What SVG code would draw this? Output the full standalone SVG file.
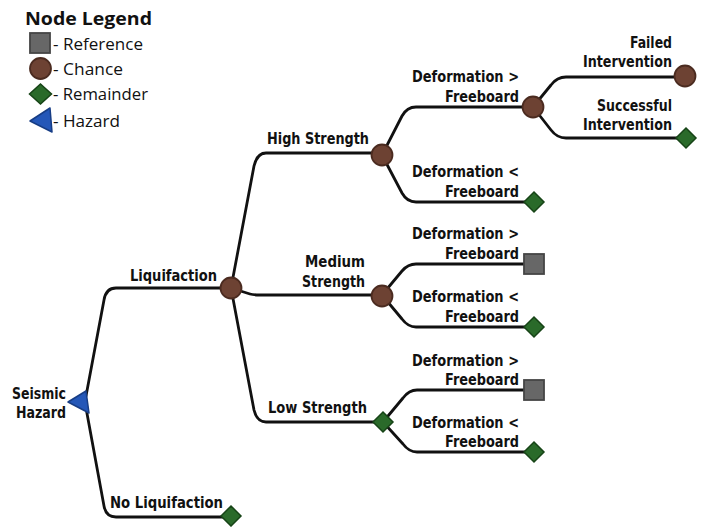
<svg xmlns="http://www.w3.org/2000/svg" width="705" height="527" viewBox="0 0 705 527">
<style>
.link{fill:none;stroke:#111;stroke-width:2.8;stroke-linejoin:round;stroke-linecap:round}
.chance{fill:#6d4233;stroke:#4b2b20;stroke-width:1.8}
.rem{fill:#2a6a2a;stroke:#174417;stroke-width:1.5}
.ref{fill:#676767;stroke:#454545;stroke-width:1.8}
.haz{fill:#2457b8;stroke:#173d85;stroke-width:1.5;stroke-linejoin:round}
.lbl{font-family:"Liberation Sans Narrow","DejaVu Sans Condensed","Open Sans",sans-serif;font-weight:bold;font-size:16px;fill:#111;text-anchor:end}
.leg{font-family:"Open Sans","Noto Sans",sans-serif;font-size:15.5px;fill:#111}
.legt{font-family:"Open Sans","Noto Sans",sans-serif;font-weight:bold;font-size:18px;fill:#111}
</style>
<rect width="705" height="527" fill="#fff"/>

<g id="legend">
  <text class="legt" x="25" y="25" textLength="127" lengthAdjust="spacingAndGlyphs">Node Legend</text>
  <rect class="ref" x="30" y="33" width="20" height="20"/>
  <text class="leg" x="53" y="50" textLength="90" lengthAdjust="spacingAndGlyphs">- Reference</text>
  <circle class="chance" cx="40.5" cy="68.5" r="10.5"/>
  <text class="leg" x="53" y="75" textLength="70" lengthAdjust="spacingAndGlyphs">- Chance</text>
  <polygon class="rem" points="40.5,84 51.5,94 40.5,104 29.5,94"/>
  <text class="leg" x="53" y="100" textLength="95" lengthAdjust="spacingAndGlyphs">- Remainder</text>
  <polygon class="haz" points="30,121 50,108 52,132"/>
  <text class="leg" x="53" y="127" textLength="67" lengthAdjust="spacingAndGlyphs">- Hazard</text>
</g>

<g id="connectors">
  <path class="link" d="M86,396 L104,300 Q106,288 116,288 H231"/>
  <path class="link" d="M86,408 L104,506 Q106,517 116,517 H231"/>
  <path class="link" d="M231,288 L254,166 Q257,153 266,153 H382"/>
  <path class="link" d="M231,288 L250,294 Q253,295 260,295 H382"/>
  <path class="link" d="M231,288 L254,410 Q257,422 266,422 H383"/>
  <path class="link" d="M382,155 L402,116 Q407,107 416,107 H533"/>
  <path class="link" d="M382,155 L402,193 Q407,202 416,202 H534"/>
  <path class="link" d="M382,295 L402,271 Q408,264 416,264 H534"/>
  <path class="link" d="M382,295 L402,319 Q408,327 416,327 H534"/>
  <path class="link" d="M383,422 L403,398 Q409,390 417,390 H534"/>
  <path class="link" d="M383,422 L403,444 Q409,452 417,452 H534"/>
  <path class="link" d="M533,107 L551,85 Q557,77 566,77 H685"/>
  <path class="link" d="M533,107 L551,130 Q557,138 566,138 H686"/>
</g>

<g id="seismic-hazard">
  <polygon class="haz" points="68,402 86,391 89,413"/>
  <text class="lbl" x="66" y="399" textLength="54" lengthAdjust="spacingAndGlyphs">Seismic</text>
  <text class="lbl" x="66" y="418" textLength="50" lengthAdjust="spacingAndGlyphs">Hazard</text>
</g>

<g id="liquifaction">
  <circle class="chance" cx="231" cy="288" r="10.5"/>
  <text class="lbl" x="217" y="281" textLength="87" lengthAdjust="spacingAndGlyphs">Liquifaction</text>
</g>

<g id="no-liquifaction">
  <polygon class="rem" points="231,506 241,516 231,526 221,516"/>
  <text class="lbl" x="223" y="508" textLength="113" lengthAdjust="spacingAndGlyphs">No Liquifaction</text>
</g>

<g id="high-strength">
  <circle class="chance" cx="382" cy="155" r="10.5"/>
  <text class="lbl" x="369" y="144" textLength="102" lengthAdjust="spacingAndGlyphs">High Strength</text>
</g>

<g id="medium-strength">
  <circle class="chance" cx="382" cy="296" r="10.5"/>
  <text class="lbl" x="365" y="267" textLength="60" lengthAdjust="spacingAndGlyphs">Medium</text>
  <text class="lbl" x="365" y="287" textLength="63" lengthAdjust="spacingAndGlyphs">Strength</text>
</g>

<g id="low-strength">
  <polygon class="rem" points="383,412 393,422 383,432 373,422"/>
  <text class="lbl" x="367" y="413" textLength="99" lengthAdjust="spacingAndGlyphs">Low Strength</text>
</g>

<g id="high-def-gt">
  <circle class="chance" cx="533" cy="107" r="10.5"/>
  <text class="lbl" x="519" y="82" textLength="107" lengthAdjust="spacingAndGlyphs">Deformation &gt;</text>
  <text class="lbl" x="519" y="102" textLength="74" lengthAdjust="spacingAndGlyphs">Freeboard</text>
</g>

<g id="high-def-lt">
  <polygon class="rem" points="534,192 544,202 534,212 524,202"/>
  <text class="lbl" x="519" y="177" textLength="107" lengthAdjust="spacingAndGlyphs">Deformation &lt;</text>
  <text class="lbl" x="519" y="197" textLength="74" lengthAdjust="spacingAndGlyphs">Freeboard</text>
</g>

<g id="failed-intervention">
  <circle class="chance" cx="685" cy="76" r="10.5"/>
  <text class="lbl" x="672" y="48" textLength="42" lengthAdjust="spacingAndGlyphs">Failed</text>
  <text class="lbl" x="672" y="67" textLength="89" lengthAdjust="spacingAndGlyphs">Intervention</text>
</g>

<g id="successful-intervention">
  <polygon class="rem" points="686,128 696,138 686,148 676,138"/>
  <text class="lbl" x="672" y="111" textLength="75" lengthAdjust="spacingAndGlyphs">Successful</text>
  <text class="lbl" x="672" y="130" textLength="89" lengthAdjust="spacingAndGlyphs">Intervention</text>
</g>

<g id="medium-def-gt">
  <rect class="ref" x="524" y="254" width="20" height="20"/>
  <text class="lbl" x="519" y="239" textLength="107" lengthAdjust="spacingAndGlyphs">Deformation &gt;</text>
  <text class="lbl" x="519" y="259" textLength="74" lengthAdjust="spacingAndGlyphs">Freeboard</text>
</g>

<g id="medium-def-lt">
  <polygon class="rem" points="534,317 544,327 534,337 524,327"/>
  <text class="lbl" x="519" y="302" textLength="107" lengthAdjust="spacingAndGlyphs">Deformation &lt;</text>
  <text class="lbl" x="519" y="322" textLength="74" lengthAdjust="spacingAndGlyphs">Freeboard</text>
</g>

<g id="low-def-gt">
  <rect class="ref" x="524" y="380" width="20" height="20"/>
  <text class="lbl" x="519" y="366" textLength="107" lengthAdjust="spacingAndGlyphs">Deformation &gt;</text>
  <text class="lbl" x="519" y="385" textLength="74" lengthAdjust="spacingAndGlyphs">Freeboard</text>
</g>

<g id="low-def-lt">
  <polygon class="rem" points="534,442 544,452 534,462 524,452"/>
  <text class="lbl" x="519" y="428" textLength="107" lengthAdjust="spacingAndGlyphs">Deformation &lt;</text>
  <text class="lbl" x="519" y="447" textLength="74" lengthAdjust="spacingAndGlyphs">Freeboard</text>
</g>
</svg>
